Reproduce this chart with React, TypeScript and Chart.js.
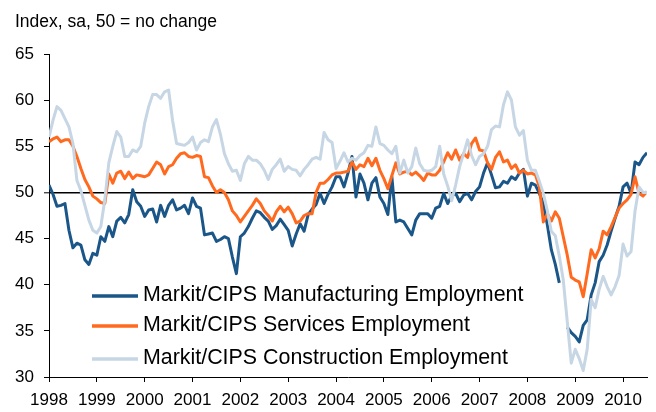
import { useEffect, useRef } from 'react';
import { Chart, registerables } from 'chart.js';

Chart.register(...registerables);

const chartTitle = 'Index, sa, 50 = no change';
const startYear = 1998;
const seriesNames = [
  'Markit/CIPS Manufacturing Employment',
  'Markit/CIPS Services Employment',
  'Markit/CIPS Construction Employment',
];
const seriesColors = ['#1B5689', '#FF6A1F', '#C6D6E4'];

// Monthly values, Jan 1998 .. Jul 2010
const manufacturing: (number | null)[] = [
  50.8, 49.8, 48.5, 48.6, 48.8, 45.9, 44.0, 44.5, 44.3, 42.7, 42.2, 43.4,
  43.2, 45.2, 44.7, 46.3, 45.2, 46.9, 47.3, 46.7, 47.6, 50.3, 49.0, 48.5,
  47.4, 48.1, 48.2, 46.8, 48.6, 47.4, 48.6, 49.2, 48.1, 48.3, 48.6, 47.7,
  49.4, 48.5, 48.3, 45.4, 45.5, 45.6, 44.7, 44.9, 45.2, 45.0, 43.0, 41.2,
  45.2, 45.6, 46.3, 47.2, 48.0, 47.8, 47.3, 46.9, 46.0, 46.4, 47.1, 46.5,
  45.9, 44.2, 45.5, 46.6, 45.8, 47.6, 48.2, 48.7, 49.9, 48.8, 49.8, 50.6,
  51.7, 51.7, 50.6, 52.1, 53.9, 49.5, 52.0, 51.0, 49.2, 51.0, 51.6, 49.5,
  48.8, 47.6, 51.7, 46.8, 47.0, 46.8, 46.1, 45.4, 47.0, 47.7, 47.7, 47.7,
  47.2, 48.3, 48.5, 49.9, 48.8, 49.6, 49.9, 49.0, 49.7, 49.9, 49.2, 50.1,
  50.6, 52.1, 53.2, 51.9, 50.5, 50.6, 51.2, 51.0, 51.7, 51.4, 52.1, 52.5,
  49.6, 51.0, 50.8, 49.9, 48.8, 46.5, 43.8, 42.2, 40.2, null, 35.4, 34.8,
  34.4, 33.8, 35.6, 36.2, 38.9, 40.2, 42.5, 43.2, 44.3, 45.8, 47.2, 48.5,
  50.6, 51.0, 49.9, 53.3, 53.0, 53.8, 54.3,
];
const services: number[] = [
  55.5, 55.8, 56.0, 55.5, 55.7, 55.7, 55.0, 53.9, 52.6, 51.4, 50.6, 49.6,
  49.3, 48.9, 48.8, 52.0, 51.0, 52.1, 52.3, 51.5, 52.2, 51.5, 51.9, 51.8,
  51.7, 51.9, 52.6, 53.3, 53.0, 52.0, 52.8, 53.0, 53.7, 54.2, 54.3, 53.9,
  53.8, 54.0, 53.9, 51.7, 51.6, 50.7, 50.0, 50.3, 50.0, 49.2, 48.0, 47.5,
  46.8, 47.4, 48.0, 48.6, 49.3, 48.8, 48.0, 47.5, 46.9, 47.9, 48.5, 47.9,
  48.4, 47.7, 46.7, 46.9, 47.5, 47.7, 47.7, 50.0, 51.0, 51.0, 51.4, 51.9,
  52.1, 52.1, 52.2, 52.3, 53.3, 52.5, 53.0, 52.8, 53.7, 52.9, 53.7, 52.4,
  51.5, 50.4, 51.8, 53.2, 52.0, 52.2, 52.3, 51.9, 52.2, 51.8, 51.3, 52.1,
  51.9, 51.9, 52.4, 53.3, 54.3, 53.6, 54.6, 53.5, 54.2, 53.8, 55.3, 55.9,
  54.6, 54.5, 53.2, 52.5, 53.8, 54.4, 53.3, 53.5, 52.6, 53.0, 52.1, 52.4,
  52.0, 52.1, 51.9, 50.6, 46.8, 47.7, 46.9, 47.9, 47.2, 45.2, 43.2, 40.8,
  40.5, 40.3, 38.7, 41.2, 43.8, 42.9, 43.9, 45.8, 45.4, 46.3, 47.3, 48.3,
  48.8, 49.2, 49.8, 51.7, 49.9, 49.6, 50.1,
];
const construction: number[] = [
  56.0, 57.8, 59.3, 58.9, 58.0, 57.1, 55.3, 51.3, 50.2, 48.6, 47.0, 45.9,
  45.6, 46.3, 49.2, 53.2, 55.0, 56.6, 56.0, 53.9, 53.9, 54.6, 54.4, 55.0,
  57.5, 59.3, 60.6, 60.6, 60.2, 60.9, 61.1, 57.8, 55.3, 55.2, 55.1, 55.4,
  56.0, 54.6, 55.4, 55.7, 55.5, 57.1, 57.9, 56.3, 54.2, 53.1, 52.3, 52.4,
  51.3, 53.1, 53.9, 53.5, 53.5, 53.1, 52.4, 51.4, 52.5, 53.0, 53.6, 52.3,
  52.8, 52.5, 52.4, 51.8, 52.5, 53.0, 53.6, 53.8, 53.6, 56.5, 55.7, 55.4,
  52.6, 53.4, 54.3, 53.3, 53.7, 53.5, 54.0, 54.3, 55.1, 55.0, 57.1, 55.3,
  55.1, 54.6, 54.2, 55.0, 52.1, 53.5, 52.1, 52.8, 54.8, 53.1, 52.4, 52.3,
  52.4, 52.8, 55.0, 52.0, 50.7, 49.1, 50.8, 52.8, 54.2, 55.7, 54.0, 53.0,
  53.9, 54.2, 55.0, 56.8, 57.2, 57.1, 59.5, 60.9, 60.0, 57.1, 56.2, 56.7,
  53.5, 52.4, 52.4, 51.2, 49.9, 48.0, 45.8, 45.3, 43.1, 40.5, 36.0, 31.5,
  33.0, 32.0, 30.7, 33.0, 38.4, 37.5, 39.5, 40.9, 39.8, 38.9, 39.8, 41.0,
  44.4, 43.1, 43.6, 48.0, 50.6, 50.0, 50.0,
];

const monthIndex = manufacturing.map((_, i) => i);
const FONT = '"Liberation Sans", Arial, Helvetica, sans-serif';

const overlayPlugin = {
  id: 'overlay',
  afterDraw(chart: any) {
    const ctx = chart.ctx as CanvasRenderingContext2D;
    ctx.save();
    ctx.fillStyle = '#000';
    ctx.textAlign = 'left';
    ctx.textBaseline = 'alphabetic';
    ctx.font = `17.5px ${FONT}`;
    ctx.fillText(chartTitle, 15, 27);

    const rows = [
      { line: 296, base: 300.5 },
      { line: 326, base: 331 },
      { line: 359, base: 363.5 },
    ];
    ctx.font = `21.4px ${FONT}`;
    chart.data.datasets.forEach((ds: any, k: number) => {
      const r = rows[k];
      ctx.strokeStyle = ds.borderColor;
      ctx.lineWidth = 3.5;
      ctx.beginPath();
      ctx.moveTo(92, r.line);
      ctx.lineTo(138, r.line);
      ctx.stroke();
      ctx.fillStyle = '#000';
      ctx.fillText(ds.label, 143, r.base);
    });
    ctx.restore();
  },
};

export default function App() {
  const ref = useRef<HTMLCanvasElement | null>(null);

  useEffect(() => {
    if (!ref.current) return;
    const series = [manufacturing, services, construction];
    const chart = new Chart(ref.current, {
      type: 'line',
      data: {
        labels: monthIndex,
        datasets: series.map((d, k) => ({
          label: seriesNames[k],
          data: d,
          borderColor: seriesColors[k],
          backgroundColor: seriesColors[k],
          borderWidth: 3,
          pointRadius: 0,
          tension: 0,
          spanGaps: false,
          borderJoinStyle: 'round' as const,
          order: 3 - k,
        })),
      },
      options: {
        responsive: false,
        animation: false,
        events: [],
        layout: { padding: { top: 54, right: 9, left: 0, bottom: 0 } },
        plugins: {
          legend: { display: false },
          title: { display: false },
          tooltip: { enabled: false },
        },
        scales: {
          x: {
            type: 'linear',
            min: 0,
            max: 150,
            afterFit: (s: any) => {
              s.height = 35;
            },
            border: { display: true, color: '#000', width: 1 },
            grid: {
              drawOnChartArea: false,
              drawTicks: true,
              tickLength: 5,
              tickColor: '#000',
              tickWidth: 1,
            },
            ticks: {
              stepSize: 12,
              includeBounds: false,
              autoSkip: false,
              maxRotation: 0,
              padding: 8,
              color: '#000',
              font: { family: FONT, size: 17 },
              callback: (v: any) => String(startYear + Number(v) / 12),
            },
          },
          y: {
            min: 30,
            max: 65,
            afterFit: (s: any) => {
              s.width = 49;
            },
            border: { display: true, color: '#000', width: 1 },
            grid: {
              drawOnChartArea: true,
              color: (c: any) => (c.tick && c.tick.value === 50 ? '#000' : 'rgba(0,0,0,0)'),
              lineWidth: (c: any) => (c.tick && c.tick.value === 50 ? 1.6 : 1),
              drawTicks: true,
              tickLength: 5,
              tickColor: '#000',
              tickWidth: 1,
            },
            ticks: {
              stepSize: 5,
              padding: 10,
              color: '#000',
              font: { family: FONT, size: 17 },
            },
          },
        },
      },
      plugins: [overlayPlugin],
    } as any);
    return () => chart.destroy();
  }, []);

  return (
    <div style={{ position: 'fixed', left: 0, top: 0, width: 656, height: 412, background: '#fff' }}>
      <canvas ref={ref} width={656} height={412} style={{ display: 'block' }} />
    </div>
  );
}
